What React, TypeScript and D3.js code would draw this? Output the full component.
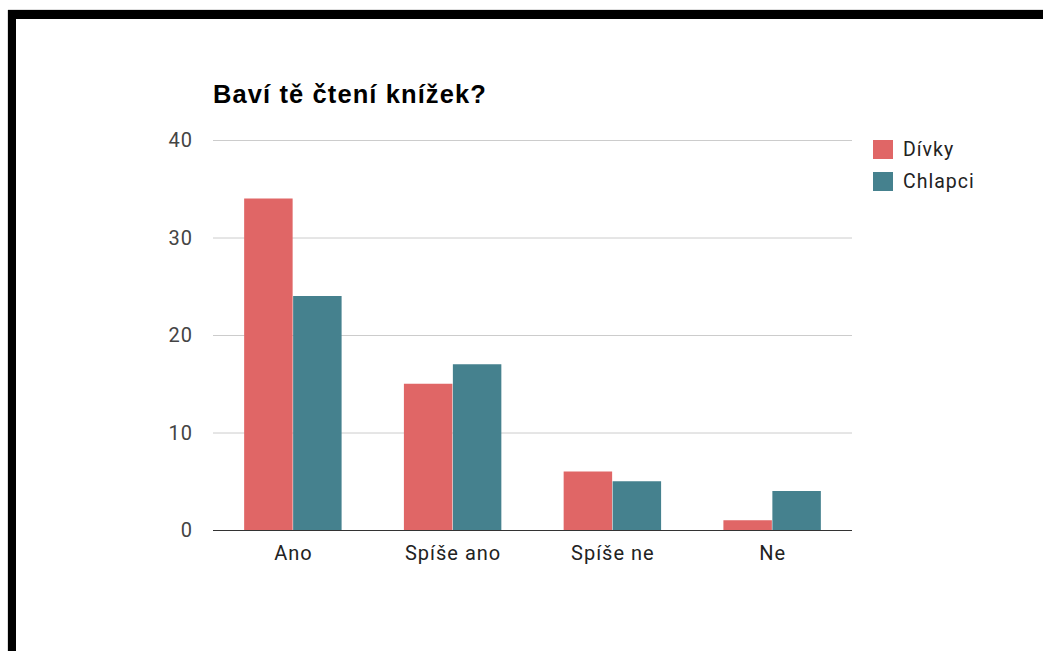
import React from "react";
import * as d3 from "d3";

const categories = ["Ano", "Spíše ano", "Spíše ne", "Ne"];
const seriesNames = ["Dívky", "Chlapci"];
const divky = [34, 15, 6, 1];
const chlapci = [24, 17, 5, 4];
const yTicks = [0, 10, 20, 30, 40];
const colors = ["#e06666", "#45818e"];

export default function App() {
  const W = 1043, H = 651;
  const left = 213, right = 852, top = 140, bottom = 530;
  const x = d3.scaleBand<string>().domain(categories).range([left, right]).paddingInner(0.39).paddingOuter(0.195);
  const xs = d3.scaleBand<string>().domain(seriesNames).range([0, x.bandwidth()]).paddingInner(0.01);
  const y = d3.scaleLinear().domain([0, 40]).range([bottom, top]);
  const series = [divky, chlapci];
  const font = "Roboto, Arial, sans-serif";
  const ls = 1;
  return (
    <svg width={W} height={H} style={{ position: "absolute", left: 0, top: 0, display: "block" }}>
      <rect x={0} y={0} width={W} height={H} fill="#fff" />
      <rect x={8} y={9} width={W} height={1} fill="#ddd" />
      <rect x={7} y={10} width={1} height={H} fill="#ddd" />
      <rect x={8} y={10} width={W} height={9} fill="#000" />
      <rect x={8} y={10} width={8} height={H} fill="#000" />
      <text x={213} y={103} fontFamily="'Liberation Sans', Arial, sans-serif" fontWeight="bold" fontSize={25.5} letterSpacing={1.1} fill="#000">Baví tě čtení knížek?</text>
      {yTicks.map((t) => (
        <g key={t}>
          {t !== 0 && <line x1={left} x2={right} y1={y(t) + 0.5} y2={y(t) + 0.5} stroke="#ccc" />}
          <text x={193} y={y(t)} dy="0.36em" textAnchor="end" fontFamily={font} fontSize={20} letterSpacing={ls} fill="#444">{t}</text>
        </g>
      ))}
      {categories.map((c, i) => (
        <g key={c}>
          {series.map((s, j) => (
            <rect key={j} x={(x(c) as number) + (xs(seriesNames[j]) as number)} y={y(s[i])} width={xs.bandwidth()} height={bottom - y(s[i])} fill={colors[j]} />
          ))}
          <text x={(x(c) as number) + x.bandwidth() / 2 + ls / 2} y={560} textAnchor="middle" fontFamily={font} fontSize={20} letterSpacing={ls} fill="#222">{c}</text>
        </g>
      ))}
      <line x1={left} x2={right} y1={bottom + 0.5} y2={bottom + 0.5} stroke="#333" />
      {seriesNames.map((n, j) => (
        <g key={n}>
          <rect x={873} y={140 + j * 32} width={20} height={19} fill={colors[j]} />
          <text x={903} y={156 + j * 32} fontFamily={font} fontSize={19.5} letterSpacing={ls} fill="#222">{n}</text>
        </g>
      ))}
    </svg>
  );
}
